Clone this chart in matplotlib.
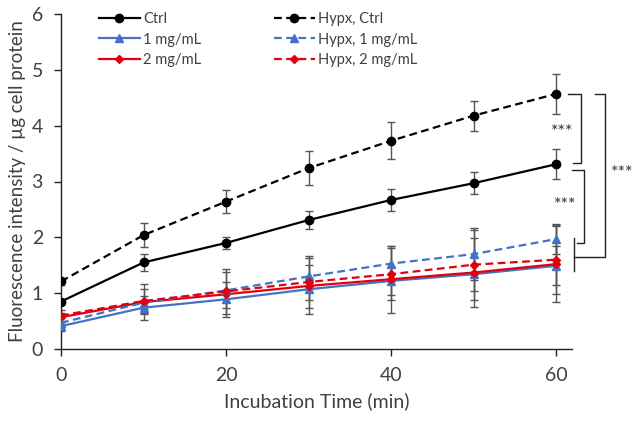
import matplotlib
matplotlib.use("Agg")
import matplotlib.pyplot as plt

plt.rcParams['font.family'] = ['Lato', 'DejaVu Sans']

time = [0, 10, 20, 30, 40, 50, 60]

ctrl = [0.85, 1.55, 1.90, 2.31, 2.67, 2.97, 3.31]
ctrl_err = [0.05, 0.16, 0.10, 0.16, 0.20, 0.20, 0.27]
hypx_ctrl = [1.21, 2.04, 2.64, 3.24, 3.73, 4.18, 4.57]
hypx_ctrl_err = [0.07, 0.21, 0.21, 0.30, 0.33, 0.27, 0.36]

mg1 = [0.41, 0.74, 0.89, 1.07, 1.22, 1.34, 1.49]
mg1_err = [0.08, 0.12, 0.15, 0.20, 0.25, 0.30, 0.35]
hypx_mg1 = [0.47, 0.83, 1.05, 1.30, 1.53, 1.70, 1.97]
hypx_mg1_err = [0.08, 0.12, 0.15, 0.20, 0.32, 0.46, 0.27]

mg2 = [0.57, 0.84, 0.98, 1.13, 1.25, 1.37, 1.52]
mg2_err = [0.08, 0.32, 0.40, 0.50, 0.60, 0.62, 0.68]
hypx_mg2 = [0.60, 0.86, 1.03, 1.20, 1.34, 1.51, 1.60]
hypx_mg2_err = [0.10, 0.22, 0.40, 0.47, 0.47, 0.63, 0.62]

BLUE = "#4472C4"
RED = "#E00010"
ERR = "#555555"

fig = plt.figure(figsize=(6.4, 4.22), dpi=100)
ax = fig.add_axes([61/640, 1-349/422, (572-61)/640, 335/422])

series = [
    (ctrl, ctrl_err, "black", "-", "o", 6, "Ctrl"),
    (mg1, mg1_err, BLUE, "-", "^", 6, "1 mg/mL"),
    (mg2, mg2_err, RED, "-", "D", 4.5, "2 mg/mL"),
    (hypx_ctrl, hypx_ctrl_err, "black", "--", "o", 6, "Hypx, Ctrl"),
    (hypx_mg1, hypx_mg1_err, BLUE, "--", "^", 6, "Hypx, 1 mg/mL"),
    (hypx_mg2, hypx_mg2_err, RED, "--", "D", 4.5, "Hypx, 2 mg/mL"),
]
handles = []
for y, e, c, ls, m, ms, lab in series:
    ax.errorbar(time, y, yerr=e, fmt="none", ecolor=ERR, elinewidth=1,
                capsize=3, capthick=1, zorder=2)
    h, = ax.plot(time, y, color=c, linestyle=ls, marker=m, markersize=ms,
                 linewidth=1.6, dashes=(3.5, 2) if ls == "--" else (None, None),
                 label=lab, zorder=3)
    handles.append(h)

ax.set_xlim(0, 61.9)
ax.set_ylim(0, 6)
ax.set_xticks([0, 20, 40, 60])
ax.set_yticks([0, 1, 2, 3, 4, 5, 6])
for s in ["top", "right"]:
    ax.spines[s].set_visible(False)
for s in ["left", "bottom"]:
    ax.spines[s].set_color("#222222")
    ax.spines[s].set_linewidth(1)
ax.tick_params(direction="out", length=5, width=1, color="#222222",
               labelsize=14, labelcolor="#404040", pad=8)
ax.set_xlabel("Incubation Time (min)", fontsize=14, color="#404040", labelpad=6)
ax.set_ylabel("Fluorescence intensity / µg cell protein", fontsize=13.5,
              color="#404040", labelpad=4)

# significance brackets
kw = dict(color="#222222", linewidth=1, clip_on=False)
ax.plot([61.45, 63.0, 63.0, 62.0], [4.57, 4.57, 3.33, 3.33], **kw)
ax.plot([61.9, 63.4, 63.4, 62.5], [3.21, 3.21, 1.89, 1.89], **kw)
ax.plot([64.7, 65.9, 65.9, 62.2], [4.57, 4.57, 1.64, 1.64], **kw)
ax.plot([62.2, 62.2], [1.39, 1.99], **kw)
skw = dict(fontsize=13, color="#333333", ha="center", va="center", clip_on=False)
ax.text(60.7, 3.88, "***", **skw)
ax.text(61.1, 2.58, "***", **skw)
ax.text(68.0, 3.15, "***", **skw)

lkw = dict(frameon=False, fontsize=10.5, handlelength=2.8, handletextpad=0.25,
           labelspacing=0.45, borderpad=0, borderaxespad=0, loc="upper left",
           labelcolor="#404040")
leg1 = fig.legend(handles=handles[:3], bbox_to_anchor=(99/640, 1-12/422), **lkw)
fig.legend(handles=handles[3:], bbox_to_anchor=(274/640, 1-12/422), **lkw)

fig.savefig("out.png", dpi=100)
